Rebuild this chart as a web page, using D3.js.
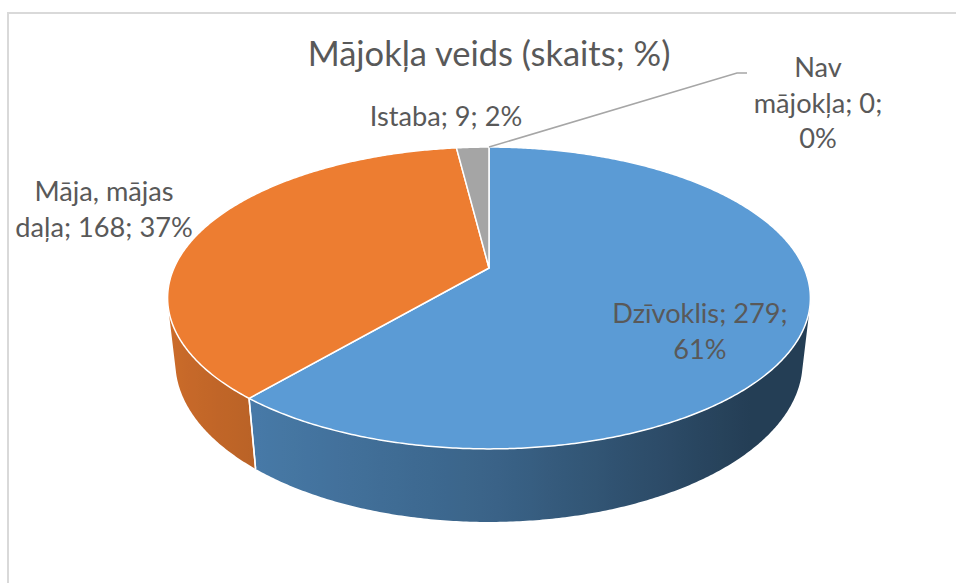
<!DOCTYPE html>
<html>
<head>
<meta charset="utf-8">
<script src="https://cdn.jsdelivr.net/npm/d3@7"></script>
<style>
  html, body { margin: 0; padding: 0; background: #ffffff; }
  svg { display: block; }
</style>
</head>
<body>
<svg id="chart" width="956" height="583"></svg>
<script>
// ---- data ----
const title = "Mājokļa veids (skaits; %)";
const categories = ["Dzīvoklis", "Māja, mājas daļa", "Istaba", "Nav mājokļa"];
const counts = [279, 168, 9, 0];
const colors = ["#5B9BD5", "#ED7D31", "#A5A5A5", "#FFC000"];
// how many words of "name; count; pct" go on each label line
const labelWrap = [[2, 1], [2, 3], [3], [1, 2, 1]];

// ---- layout ----
const W = 956, H = 583;
const center = { x: 489, y: 268 };
const tilt = 27.4 * Math.PI / 180;   // camera elevation
const camDist = 4.47;                // camera distance in pie radii
const focal = 1408;                  // projection scale, px
const thickness = 0.231;             // pie height in pie radii
const textColor = "#595959";
const labelFont = 27.2, titleFont = 34.5, lineGap = 35.5;
// label anchors: centre x and first baseline y
const labelPos = [
  { x: 700, y: 323 },
  { x: 104, y: 201 },
  { x: 446, y: 126 },
  { x: 818, y: 77 }
];
const leaderBend = { x: 737, y: 73 }, leaderEnd = { x: 747, y: 73 };

const svg = d3.select("#chart");

// chart area frame
svg.append("rect")
  .attr("x", 8).attr("y", 13)
  .attr("width", W + 40).attr("height", H + 40)
  .attr("fill", "#ffffff")
  .attr("stroke", "#D9D9D9").attr("stroke-width", 2);

const total = d3.sum(counts);
const pie = d3.pie().sort(null).value(d => d.count)
  .startAngle(0).endAngle(2 * Math.PI);
const rows = categories.map((c, i) => ({ name: c, count: counts[i], color: colors[i], wrap: labelWrap[i], pos: labelPos[i] }));
const arcs = pie(rows);

// perspective projection of a point on the pie: angle a clockwise from 12 o'clock,
// radius r (1 = rim), height y (0 = top face, negative = down)
function project(a, r, y) {
  const X = r * Math.sin(a), Z = r * Math.cos(a), Y = y;
  const v = Y * Math.cos(tilt) + Z * Math.sin(tilt);
  const d = camDist + Z * Math.cos(tilt) - Y * Math.sin(tilt);
  return [center.x + focal * X / d, center.y - focal * v / d];
}

function sampleAngles(a0, a1, step) {
  const n = Math.max(1, Math.ceil((a1 - a0) / step));
  return d3.range(n + 1).map(i => a0 + (a1 - a0) * i / n);
}

const line = d3.line().curve(d3.curveLinear);
const step = Math.PI / 360;

// range of the outer wall that faces the camera
const k = 1 / (camDist * Math.cos(tilt));
const aMin = Math.acos(-k), aMax = 2 * Math.PI - Math.acos(-k);

// wall shading by horizontal direction of the surface normal
function shadeFactor(a) {
  const c = Math.sin(a);
  return c < 0 ? 0.64 - 0.23 * c : Math.max(0.40, 0.64 - 0.34 * c);
}
function shade(hex, f) {
  const c = d3.rgb(hex);
  return d3.rgb(c.r * f, c.g * f, c.b * f).formatHex();
}

const defs = svg.append("defs");
const xLeft = project(aMax, 1, 0)[0], xRight = project(aMin, 1, 0)[0];
rows.forEach((r, i) => {
  const g = defs.append("linearGradient")
    .attr("id", "wall" + i)
    .attr("gradientUnits", "userSpaceOnUse")
    .attr("x1", xLeft).attr("y1", 0).attr("x2", xRight).attr("y2", 0);
  sampleAngles(aMin, aMax, Math.PI / 72).reverse().forEach(a => {
    const x = project(a, 1, 0)[0];
    g.append("stop")
      .attr("offset", ((x - xLeft) / (xRight - xLeft)).toFixed(4))
      .attr("stop-color", shade(r.color, shadeFactor(a)));
  });
});

// outer walls
const walls = svg.append("g");
arcs.forEach((d, i) => {
  const s = Math.max(d.startAngle, aMin), e = Math.min(d.endAngle, aMax);
  if (!(e > s)) return;
  const angles = sampleAngles(s, e, step);
  const top = angles.map(a => project(a, 1, 0));
  const bottom = angles.slice().reverse().map(a => project(a, 1, -thickness));
  walls.append("path")
    .attr("d", line(top.concat(bottom)) + "Z")
    .attr("fill", "url(#wall" + i + ")");
});

// white seams where slices meet on the visible wall
arcs.forEach(d => {
  [d.startAngle, d.endAngle].forEach(a => {
    if (a > aMin && a < aMax && d.value > 0) {
      walls.append("path")
        .attr("d", line([project(a, 1, 0), project(a, 1, -thickness)]))
        .attr("stroke", "#ffffff").attr("stroke-width", 1.5).attr("fill", "none");
    }
  });
});

// top faces
const tops = svg.append("g");
arcs.filter(d => d.value > 0).forEach(d => {
  const pts = [project(0, 0, 0)].concat(sampleAngles(d.startAngle, d.endAngle, step).map(a => project(a, 1, 0)));
  tops.append("path")
    .attr("d", line(pts) + "Z")
    .attr("fill", d.data.color)
    .attr("stroke", "#ffffff").attr("stroke-width", 1.5)
    .attr("stroke-linejoin", "round");
});

// leader line for the empty slice
const empty = arcs.find(d => d.value === 0);
if (empty) {
  const p0 = project(empty.startAngle, 1, 0);
  svg.append("path")
    .attr("d", line([p0, [leaderBend.x, leaderBend.y], [leaderEnd.x, leaderEnd.y]]))
    .attr("fill", "none").attr("stroke", "#A6A6A6").attr("stroke-width", 1.5);
}

// data labels: "name; count; pct"
const labels = svg.append("g")
  .attr("font-family", "Lato, 'Open Sans', sans-serif")
  .attr("font-size", labelFont)
  .attr("fill", textColor)
  .attr("text-anchor", "middle");
arcs.forEach(d => {
  const pct = Math.round(d.value / total * 100) + "%";
  const words = (d.data.name + "; " + d.value + "; " + pct).split(" ");
  let idx = 0;
  const lines = d.data.wrap.map(n => { const w = words.slice(idx, idx + n).join(" "); idx += n; return w; });
  const t = labels.append("text");
  lines.forEach((ln, j) => {
    t.append("tspan").attr("x", d.data.pos.x).attr("y", d.data.pos.y + j * lineGap).text(ln);
  });
});

// title
svg.append("text")
  .attr("x", 489).attr("y", 66)
  .attr("text-anchor", "middle")
  .attr("font-family", "Lato, 'Open Sans', sans-serif")
  .attr("font-size", titleFont)
  .attr("fill", textColor)
  .text(title);
</script>
</body>
</html>
